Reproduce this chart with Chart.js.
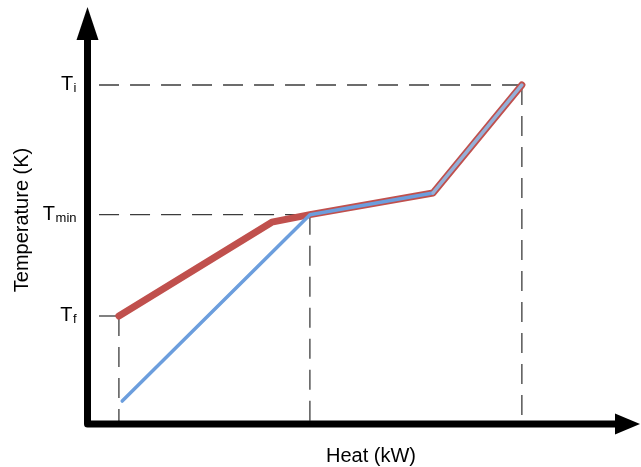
<!DOCTYPE html>
<html>
<head>
<meta charset="utf-8">
<script src="https://cdn.jsdelivr.net/npm/chart.js@4/dist/chart.umd.min.js"></script>
<style>
  html, body { margin: 0; padding: 0; background: #ffffff; }
  #wrap { width: 641px; height: 467px; }
</style>
</head>
<body>
<div id="wrap"><canvas id="c" width="641" height="467"></canvas></div>
<script>
// ---- data (arbitrary units: Heat 0-100, Temperature 0-100) ----
const hotHeat  = [5.6, 33.3, 40.2, 62.5, 78.6];
const hotTemp  = [25.9, 48.4, 50.2, 55.4, 81.3];
const coldHeat = [6.2, 40.2, 62.5, 78.6];
const coldTemp = [5.5, 50.2, 55.4, 81.3];

const tickValues = [81.3, 50.2, 25.9];
const tickMain   = ['T', 'T', 'T'];
const tickSub    = ['i', 'min', 'f'];
const guideHeat  = [78.6, 40.2, 5.6];
const guideStart = 2;

const xTitle = 'Heat (kW)';
const yTitle = 'Temperature (K)';

const FONT = '"Liberation Sans", Arial, sans-serif';

const toPts = (xs, ys) => xs.map((v, i) => ({ x: v, y: ys[i] }));

const guideStyle = {
  borderColor: '#3c3c3c', borderWidth: 1.3, borderDash: [20, 11],
  pointRadius: 0, fill: false, tension: 0, order: 5
};

const datasets = [
  {
    label: 'cold', data: toPts(coldHeat, coldTemp),
    borderColor: '#6C9EDD', borderWidth: 3.5, borderCapStyle: 'round', borderJoinStyle: 'round',
    pointRadius: 0, tension: 0, order: 0,
    segment: { borderColor: c => c.p0DataIndex === coldHeat.length - 2 ? '#94B0D8' : undefined }
  },
  {
    label: 'hot', data: toPts(hotHeat, hotTemp),
    borderColor: '#C0504D', borderWidth: 7, borderCapStyle: 'round', borderJoinStyle: 'round',
    pointRadius: 0, tension: 0, order: 1
  }
];
tickValues.forEach((v, i) => {
  datasets.push(Object.assign({ label: 'h' + i, data: [{ x: guideStart, y: v }, { x: guideHeat[i], y: v }] }, guideStyle));
  datasets.push(Object.assign({ label: 'v' + i, data: [{ x: guideHeat[i], y: v }, { x: guideHeat[i], y: 0 }] }, guideStyle));
});

const axesPlugin = {
  id: 'axesPlugin',
  afterDraw(chart) {
    const { ctx, chartArea: a, scales: { y } } = chart;
    const x0 = a.left - 0.5, y0 = a.bottom;
    ctx.save();
    // axis lines
    ctx.strokeStyle = '#000'; ctx.lineWidth = 7; ctx.lineJoin = 'round';
    ctx.beginPath();
    ctx.moveTo(x0, a.top + 30);
    ctx.lineTo(x0, y0);
    ctx.lineTo(a.right - 22, y0);
    ctx.stroke();
    // arrow heads
    ctx.fillStyle = '#000';
    ctx.beginPath();
    ctx.moveTo(x0, a.top);
    ctx.lineTo(x0 + 11, a.top + 33);
    ctx.lineTo(x0 - 11, a.top + 33);
    ctx.closePath(); ctx.fill();
    ctx.beginPath();
    ctx.moveTo(a.right, y0);
    ctx.lineTo(a.right - 25, y0 - 10.5);
    ctx.lineTo(a.right - 25, y0 + 10.5);
    ctx.closePath(); ctx.fill();
    // tick labels with subscripts
    ctx.fillStyle = '#000';
    ctx.textBaseline = 'alphabetic';
    tickValues.forEach((v, i) => {
      const py = y.getPixelForValue(v);
      const right = x0 - 11;
      ctx.font = '13px ' + FONT;
      const sw = ctx.measureText(tickSub[i]).width;
      ctx.textAlign = 'left';
      ctx.fillText(tickSub[i], right - sw, py + 7);
      ctx.font = '20px ' + FONT;
      ctx.textAlign = 'right';
      ctx.fillText(tickMain[i], right - sw - 0.5, py + 5);
    });
    // axis titles
    ctx.font = '20px ' + FONT;
    ctx.textAlign = 'center';
    ctx.fillText(xTitle, 371, 462);
    ctx.save();
    ctx.translate(28, 220);
    ctx.rotate(-Math.PI / 2);
    ctx.fillText(yTitle, 0, 0);
    ctx.restore();
    ctx.restore();
  }
};

new Chart(document.getElementById('c'), {
  type: 'line',
  data: { datasets },
  options: {
    responsive: false,
    animation: false,
    events: [],
    layout: { padding: { left: 88, right: 1, top: 7, bottom: 43 } },
    scales: {
      x: { type: 'linear', min: 0, max: 100, display: false },
      y: { type: 'linear', min: 0, max: 100, display: false }
    },
    plugins: { legend: { display: false }, tooltip: { enabled: false } },
    elements: { line: { fill: false } },
    clip: false
  },
  plugins: [axesPlugin]
});
</script>
</body>
</html>
